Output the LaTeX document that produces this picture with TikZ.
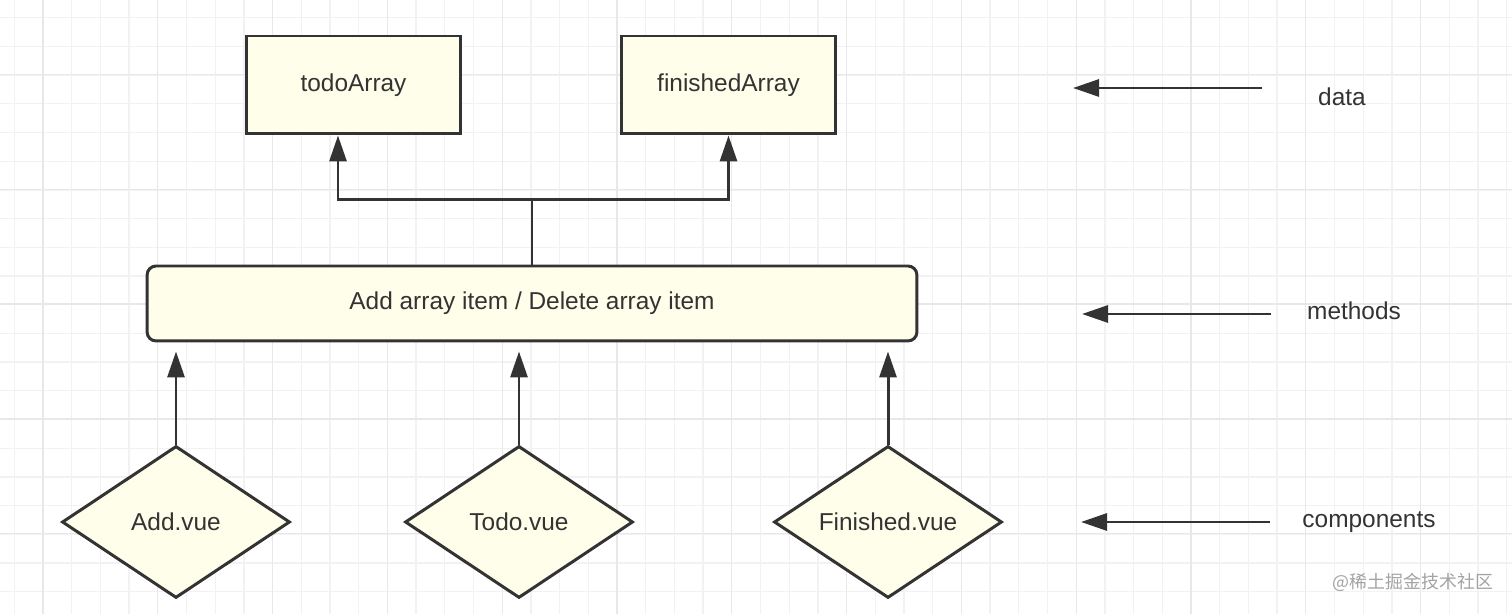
\documentclass[tikz,border=0pt]{standalone}
\usepackage{fontspec}
\setmainfont{Liberation Sans}
\newfontfamily\cjk{Noto Sans CJK SC}
\usetikzlibrary{arrows.meta, positioning, shapes.geometric}

\definecolor{ink}{HTML}{333333}
\definecolor{paper}{HTML}{FEFEEA}
\definecolor{gridminor}{HTML}{F2F2F2}
\definecolor{gridmajor}{HTML}{E8E8E8}

\begin{document}
\begin{tikzpicture}
  [
    x=0.02cm, y=-0.02cm,
    every node/.style={text=ink, font=\fontsize{13.9}{16}\selectfont},
    databox/.style={draw=ink, fill=paper, line width=1.7pt, minimum width=4.28cm, minimum height=1.96cm},
    methodbox/.style={draw=ink, fill=paper, line width=1.7pt, rounded corners=0.18cm, minimum width=15.4cm, minimum height=1.5cm},
    compnode/.style={diamond, draw=ink, fill=paper, line width=1.7pt, aspect=1.5, minimum width=4.56cm, minimum height=3.04cm, inner sep=0pt},
    link/.style={draw=ink, line width=1.7pt},
    arr/.style={link, -{Triangle[length=0.52cm, width=0.34cm]}}
  ]
  \useasboundingbox (0,0) rectangle (1512,614);
  \fill[white] (0,0) rectangle (1512,614);

  % grid
  \foreach \i in {0,...,52}
    \draw[gridminor, line width=0.7pt] ({14.3+\i*28.7},0) -- ++(0,614);
  \foreach \i in {0,...,21}
    \draw[gridminor, line width=0.7pt] (0,{17.7+\i*28.7}) -- ++(1512,0);
  \foreach \i in {0,...,12}
    \draw[gridmajor, line width=0.7pt] ({43+\i*114.8},0) -- ++(0,614);
  \foreach \i in {0,...,5}
    \draw[gridmajor, line width=0.7pt] (0,{74.5+\i*114.8}) -- ++(1512,0);

  % data
  \node[databox] (todo) at (353.5,85) {todoArray};
  \node[databox] (finished) at (728.5,85) {finishedArray};

  % methods
  \node[methodbox] (methods) at (532,303.5) {Add array item / Delete array item};

  % components
  \node[compnode] (add) at (176,522) {Add.vue};
  \node[compnode] (todovue) at (519,522) {Todo.vue};
  \node[compnode] (finishedvue) at (888,522) {Finished.vue};

  \coordinate (split) at (532,199.5);
  \draw[link] (methods.north) -- (split);
  \draw[arr] (split) -| ([xshift=-0.31cm]todo.south);
  \draw[arr] (split) -| (finished.south);

  \draw[arr, shorten >=0.18cm] (add.north) -- (add.north |- methods.south);
  \draw[arr, shorten >=0.18cm] (todovue.north) -- (todovue.north |- methods.south);
  \draw[arr, shorten >=0.18cm] (finishedvue.north) -- (finishedvue.north |- methods.south);

  % layer labels
  \coordinate (datafrom) at (1262,88);
  \coordinate (datato) at (1073,88);
  \coordinate (methodsfrom) at (1271,314);
  \coordinate (methodsto) at (1082,314);
  \coordinate (compfrom) at (1270,522);
  \coordinate (compto) at (1081,522);
  \draw[arr] (datafrom) -- (datato);
  \draw[arr] (methodsfrom) -- (methodsto);
  \draw[arr] (compfrom) -- (compto);
  \node (datalbl) at (1342,97) {data};
  \node (methodslbl) at (1354,311) {methods};
  \node (complbl) at (1369,522) {components};

  \node[text=ink!45, font=\cjk\fontsize{10.2}{12}\selectfont] (mark) at (1413,582) {@稀土掘金技术社区};
\end{tikzpicture}
\end{document}
